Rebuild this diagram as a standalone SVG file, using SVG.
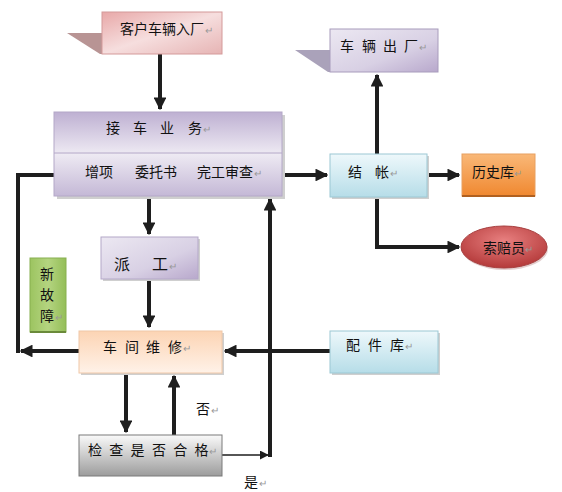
<svg xmlns="http://www.w3.org/2000/svg" width="562" height="492" viewBox="0 0 562 492">
<defs>
<linearGradient id="gPink" x1="0" y1="0" x2="1" y2="1"><stop offset="0" stop-color="#e8a8a8"/><stop offset="0.5" stop-color="#f6dede"/><stop offset="1" stop-color="#e6b4b4"/></linearGradient>
<linearGradient id="gPurple" x1="0" y1="0" x2="0" y2="1"><stop offset="0" stop-color="#beb0d2"/><stop offset="0.5" stop-color="#eeeaf3"/><stop offset="1" stop-color="#c4b8d6"/></linearGradient>
<linearGradient id="gPurple2" x1="0" y1="0" x2="1" y2="1"><stop offset="0" stop-color="#ece8f2"/><stop offset="0.6" stop-color="#d8d0e4"/><stop offset="1" stop-color="#b8a8cc"/></linearGradient>
<linearGradient id="gBlue" x1="0" y1="0" x2="0" y2="1"><stop offset="0" stop-color="#eef8fb"/><stop offset="1" stop-color="#b6dde8"/></linearGradient>
<linearGradient id="gOrange" x1="0" y1="0" x2="0" y2="1"><stop offset="0" stop-color="#f9b878"/><stop offset="1" stop-color="#f08830"/></linearGradient>
<linearGradient id="gGreen" x1="0" y1="0" x2="1" y2="0"><stop offset="0" stop-color="#9cc460"/><stop offset="0.5" stop-color="#b4d480"/><stop offset="1" stop-color="#94be58"/></linearGradient>
<linearGradient id="gPeach" x1="0" y1="0" x2="0" y2="1"><stop offset="0" stop-color="#fcd4b4"/><stop offset="1" stop-color="#fff2e8"/></linearGradient>
<linearGradient id="gGray" x1="0" y1="0" x2="0" y2="1"><stop offset="0" stop-color="#fafafa"/><stop offset="1" stop-color="#9c9c9c"/></linearGradient>
<radialGradient id="gRed" cx="0.5" cy="0.35" r="0.7"><stop offset="0" stop-color="#e88080"/><stop offset="1" stop-color="#b03434"/></radialGradient>
<marker id="ah" viewBox="0 0 10 10" refX="9" refY="5" markerWidth="3.2" markerHeight="3.2" orient="auto" markerUnits="strokeWidth"><path d="M0,0 L10,5 L0,10 z" fill="#1e1e1e"/></marker>
<marker id="ahs" viewBox="0 0 10 10" refX="9" refY="5" markerWidth="9" markerHeight="9" orient="auto" markerUnits="userSpaceOnUse"><path d="M0,0 L10,5 L0,10 z" fill="#1e1e1e"/></marker>
</defs>
<style>
text{font-family:"Noto Sans CJK SC","Noto Sans",sans-serif;font-size:14px;fill:#111}
.pm{fill:#999;font-size:10px}
.sh{fill:#cfcfcf}
.c{fill:none;stroke:#1e1e1e;stroke-width:4}
</style>
<rect width="562" height="492" fill="#fff"/>

<g id="connectors">
<path class="c" d="M160,54 V109" marker-end="url(#ah)"/>
<path class="c" d="M377,155 V75" marker-end="url(#ah)"/>
<path class="c" d="M270,175 H327" marker-end="url(#ah)"/>
<path class="c" d="M427,175 H459" marker-end="url(#ah)"/>
<path class="c" d="M377,197 V247 H459" marker-end="url(#ah)"/>
<path class="c" d="M149,196 V234" marker-end="url(#ah)"/>
<path class="c" d="M149,279 V327" marker-end="url(#ah)"/>
<path class="c" d="M330,351 H225" marker-end="url(#ah)"/>
<path class="c" d="M79,351 H21" marker-end="url(#ah)"/>
<path class="c" d="M18,353 V175 H78" marker-end="url(#ah)"/>
<path class="c" d="M126,373 V432" marker-end="url(#ah)"/>
<path class="c" d="M174,435 V376" marker-end="url(#ah)"/>
<path fill="none" stroke="#1e1e1e" stroke-width="1.3" d="M222,455 H268" marker-end="url(#ahs)"/>
<path class="c" d="M270,457 V199" marker-end="url(#ah)"/>
</g>

<g id="n-entry">
<path d="M67,33 H102 V54 H100 Z" fill="#b89494"/>
<rect x="102" y="12" width="120" height="42" fill="url(#gPink)" stroke="#d49a9a"/>
<text x="120" y="34">客户车辆入厂</text>
<text class="pm" x="205" y="34">↵</text>
</g>

<g id="n-exit">
<path d="M295,50 H330 V72 H328 Z" fill="#aaa2ba"/>
<rect x="330" y="29" width="108" height="43" fill="url(#gPurple2)" stroke="#a89cbc"/>
<text x="340 362 383 404" y="51">车辆出厂</text>
<text class="pm" x="419" y="51">↵</text>
</g>

<g id="n-reception">
<rect x="57" y="115" width="228" height="84" class="sh"/>
<rect x="54" y="112" width="228" height="84" fill="url(#gPurple)" stroke="#b4a8c8"/>
<line x1="54" y1="153" x2="282" y2="153" stroke="#b4a8c8"/>
<text x="106 133 160 188" y="133">接车业务</text>
<text class="pm" x="203" y="133">↵</text>
<text x="85" y="177">增项</text>
<text x="135" y="177">委托书</text>
<text x="197" y="177">完工审查</text>
<text class="pm" x="254" y="177">↵</text>
</g>

<g id="n-checkout">
<rect x="332" y="156" width="97" height="43" class="sh"/>
<rect x="330" y="154" width="97" height="43" fill="url(#gBlue)" stroke="#9cc8d4"/>
<text x="348 375" y="177">结帐</text>
<text class="pm" x="390" y="177">↵</text>
</g>

<g id="n-history">
<rect x="462" y="154" width="73" height="42" fill="url(#gOrange)" stroke="#e8a060"/>
<line x1="462" y1="196" x2="535" y2="196" stroke="#b06020" stroke-width="2"/>
<text x="472" y="177">历史库</text>
<text class="pm" x="514" y="177">↵</text>
</g>

<g id="n-claims">
<ellipse cx="505" cy="249" rx="43" ry="21" fill="#c8a0a0" opacity="0.5"/>
<ellipse cx="504" cy="247" rx="43" ry="21" fill="url(#gRed)" stroke="#a84040"/>
<text x="483" y="253">索赔员</text>
<text class="pm" x="525" y="253">↵</text>
</g>

<g id="n-dispatch">
<rect x="103" y="239" width="97" height="42" class="sh"/>
<rect x="101" y="237" width="97" height="42" fill="url(#gPurple2)" stroke="#b4a8c8"/>
<text x="114 152" y="270" style="font-size:16px">派工</text>
<text class="pm" x="169" y="270">↵</text>
</g>

<g id="n-newfault">
<rect x="30" y="258" width="36" height="74" fill="url(#gGreen)" stroke="#88b050"/>
<line x1="30" y1="332" x2="66" y2="332" stroke="#6a8a3a" stroke-width="2"/>
<text x="40" y="279">新</text>
<text x="40" y="300">故</text>
<text x="40" y="321">障</text>
<text class="pm" x="55" y="321">↵</text>
</g>

<g id="n-workshop">
<rect x="81" y="333" width="143" height="42" class="sh"/>
<rect x="79" y="331" width="143" height="42" fill="url(#gPeach)" stroke="#f0c8a8"/>
<text x="103 125 146 168" y="352">车间维修</text>
<text class="pm" x="183" y="352">↵</text>
</g>

<g id="n-parts">
<rect x="332" y="333" width="108" height="42" class="sh"/>
<rect x="330" y="331" width="108" height="42" fill="url(#gBlue)" stroke="#9cc8d4"/>
<text x="346 368 390" y="350">配件库</text>
<text class="pm" x="405" y="350">↵</text>
</g>

<g id="n-inspect">
<rect x="79" y="435" width="143" height="41" fill="url(#gGray)" stroke="#7a7a7a"/>
<text x="88 109.3 130.6 151.9 173.2 194.5" y="455">检查是否合格</text>
<text class="pm" x="209" y="455">↵</text>
</g>

<g id="labels">
<text x="196" y="414">否</text>
<text class="pm" x="211" y="414">↵</text>
<text x="244" y="487">是</text>
<text class="pm" x="259" y="487">↵</text>
</g>
</svg>
